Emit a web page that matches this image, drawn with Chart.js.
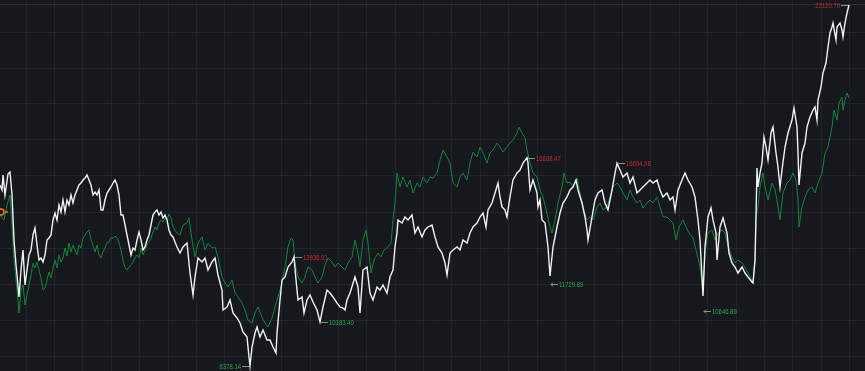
<!DOCTYPE html>
<html>
<head>
<meta charset="utf-8">
<script src="https://cdn.jsdelivr.net/npm/chart.js@4"></script>
<style>
  html, body { margin: 0; padding: 0; background: #16181d; }
  #wrap { width: 865px; height: 371px; }
</style>
</head>
<body>
<div id="wrap"><canvas id="chart"></canvas></div>
<script>
// white index (trading day, level)
const whiteDays = [0,2,3,5,8,10,12,14,16,17,19,21,23,25,27,29,31,33,35,37,39,41,43,45,47,49,51,53,55,57,59,61,63,65,67,69,71,73,75,77,79,81,83,85,87,89,91,93,95,97,99,101,103,105,107,109,111,113,115,117,119,121,123,125,127,129,131,133,135,137,139,141,143,145,147,149,151,153,155,157,159,161,163,165,167,169,171,173,177,180,183,187,188,190,193,195,198,202,205,208,212,215,218,222,223,227,230,233,237,240,243,247,249,250,252,255,257,260,263,267,270,273,276,277,280,282,285,288,292,294,296,298,302,304,307,310,313,317,320,323,327,330,333,337,340,343,345,347,350,355,358,360,363,367,370,373,377,380,383,387,390,393,395,397,398,402,405,408,412,415,418,422,425,428,432,435,438,442,445,447,450,453,457,460,463,467,470,473,477,480,483,486,488,492,495,498,500,502,505,507,510,513,517,520,523,527,528,530,533,537,538,540,542,545,548,550,553,557,560,563,567,570,573,576,578,582,585,587,588,592,595,598,602,605,608,612,615,617,620,623,627,630,633,637,640,643,647,650,653,657,660,663,667,670,673,675,678,682,685,688,692,695,698,700,703,705,708,711,713,716,717,720,723,727,729,732,735,738,742,745,748,752,753,755,756,757,758,760,762,764,766,768,771,773,776,778,780,782,785,788,792,794,797,798,799,802,805,807,810,813,815,817,818,821,823,826,828,830,832,833,836,837,840,842,843,845,847,849];
const whiteValues = [15771,15567,16180,15363,16221,16302,15363,13526,12505,12097,11199,12301,13118,11689,12301,12913,13118,13730,14016,13322,12709,12791,12628,12913,13526,13607,13730,14343,14628,14343,14955,14669,15159,14669,15159,14955,15363,15037,15363,15567,15771,15853,15976,16057,16180,15976,15771,15363,15486,15363,15567,14751,14751,15159,15445,15567,15690,15853,15976,15771,15363,14547,14547,14138,13730,13322,12913,13199,13118,13526,13852,13526,13118,13240,13526,13730,14138,14547,14669,14751,14547,14669,14424,14547,14343,13934,13730,13648,13240,12995,13240,13403,12995,12178,11280,12015,12791,12628,12791,12301,12628,12791,12097,11484,10668,10790,11076,10545,10341,10137,9769,9565,8749,8378,9157,9728,9974,9565,9851,9443,9443,9157,8912,9728,11076,11893,12015,12423,12628,12837,11893,11076,11199,10545,11076,11280,10994,10668,10183,10790,11484,11362,11199,10953,10790,10749,10668,11076,11362,12015,11607,10545,12301,12423,11362,11076,11607,11484,11689,11362,12015,12301,13240,13812,14343,14220,14465,14343,14547,13812,14057,13648,13934,14057,14138,13648,13240,12995,12587,12097,12995,13118,13240,13118,13526,13403,13812,14057,14220,14465,14628,14057,14751,15037,15445,15853,15282,14873,14751,14465,15282,15976,16261,16384,16670,16888,16670,15567,15976,15445,14873,15159,14343,14220,13240,12056,13240,14057,14628,15037,15282,15567,15690,15976,15567,15037,14465,13934,13526,14465,15159,15445,15567,15037,14751,15567,16261,16655,16384,16098,16261,15853,16098,15445,15567,15690,15853,15976,15853,15976,15567,15282,15445,15159,15282,14751,15567,15976,16261,15976,15690,15282,14343,13526,11240,13240,14465,14832,14343,13812,12709,14057,14424,13812,12995,12587,12423,12178,12423,12178,12015,11811,11770,12709,14465,16466,15690,16261,16670,17731,17323,16792,17895,18140,17078,16506,15690,16384,17323,17895,18425,18915,18140,17078,15771,17078,17486,18140,18548,18834,18956,18425,19242,19773,20344,20753,21406,21978,22223,22386,21692,22223,22386,22100,21814,22386,22794,23121];

// green index (trading day, level)
const greenDays = [0,4,7,10,12,14,16,18,19,21,23,25,27,29,31,33,35,37,39,41,43,45,47,49,51,53,55,57,59,61,63,65,67,69,71,73,75,77,79,81,83,85,87,89,91,93,95,97,99,101,103,105,107,109,111,113,115,117,119,121,123,125,127,129,131,133,135,137,139,141,143,145,147,149,151,153,155,157,159,161,163,165,167,169,171,173,177,180,183,187,189,192,195,198,202,205,208,212,215,218,222,225,228,232,235,238,242,245,248,252,255,258,262,265,268,272,275,278,282,285,288,291,293,295,298,302,305,308,312,315,318,322,325,328,332,335,338,342,345,348,352,355,358,360,363,366,368,371,374,378,381,384,388,391,393,395,397,400,403,407,410,413,417,420,423,427,430,433,437,440,443,447,450,453,457,460,463,467,470,473,477,480,483,487,490,493,497,500,503,507,510,513,517,519,522,525,527,530,533,537,540,543,547,550,552,555,558,562,564,567,570,573,577,580,583,587,590,593,597,600,603,607,610,613,617,620,623,627,630,633,637,640,643,647,650,653,657,660,663,667,670,673,676,679,683,686,689,693,696,699,700,703,705,708,712,715,718,722,725,728,732,735,738,742,745,748,752,753,755,756,758,760,763,765,768,772,775,777,780,783,787,790,793,796,798,799,802,805,808,812,815,818,822,825,828,832,834,837,839,842,843,845,847,849];
const greenValues = [14547,14343,14955,15363,14138,12709,11893,11076,10545,11484,11689,10872,11280,11689,12097,12587,12383,12628,12301,11974,11484,11566,11893,12219,11974,12383,12709,12383,12913,12628,12791,13199,12873,13403,13036,13322,13118,12913,13322,13199,13607,13730,13852,13934,13526,13322,13036,13322,12913,12791,13036,13199,13403,13444,13607,13607,13689,13607,13403,13118,12709,12383,12301,12423,12505,12628,12791,12913,12791,13199,12913,13118,13322,13444,13607,13852,14057,13934,14220,14343,14261,14424,14343,14587,14424,14057,13812,13730,14138,14220,14424,13526,12832,13403,13648,13118,13403,13199,13240,12832,12015,11770,11607,11893,11362,11199,10953,10668,10259,10137,10545,10790,10382,10137,9974,10341,10790,11199,11770,12423,13240,13607,13526,12587,12015,11770,12015,12423,12301,12015,11770,12015,12505,12791,12628,12423,12587,12423,12301,12587,12832,13526,12995,12423,13526,13934,13403,12178,12709,12995,12832,13118,13240,13403,14343,15037,16261,15690,16098,15690,15976,15445,15853,15690,16098,15853,16098,16057,16261,16792,17201,16915,16670,15853,15690,16098,16261,15976,16670,17119,16915,17323,17078,16670,17078,17201,17486,17323,17119,17323,17486,17609,17895,18140,17895,17690,17201,16670,16261,16098,15567,15282,14628,14057,13812,14343,15037,15690,16261,15853,15894,15690,16057,15445,14873,14343,14465,14343,14873,15037,14751,14873,15282,15690,15853,15690,15445,15159,15567,15282,15037,15159,14832,15037,15159,15037,15282,14873,14465,14465,14343,14220,13526,14057,14343,14057,13812,13607,13118,12628,12423,11484,12995,13812,13934,13526,13812,13934,13812,13240,12832,12587,12709,12587,12423,12178,11893,11770,12709,14465,14873,15690,16261,15690,15159,15853,15567,15159,14343,15445,15853,15976,16261,15976,15159,14057,14873,15282,15567,15690,15445,15853,16261,17078,17323,18140,18834,18425,19120,19365,18834,19242,19528,19324];

// marked extremes
const highDays = [294, 527, 617, 849];
const highValues = [12836.91, 16888.47, 16654.98, 23120.70];
const highSides = ['right', 'right', 'right', 'left'];
const lowDays = [250, 320, 550, 703];
const lowValues = [8378.14, 10183.40, 11729.89, 10646.89];
const lowSides = ['left', 'right', 'right', 'right'];
const lowArrows = [false, false, true, true];

// start marker
const startDays = [1];
const startValues = [14669];

// axis range and grid levels
const dayMin = 0, dayMax = 865;
const levelMin = 8177, levelMax = 23325;
const levelGrid = [23121, 22018, 20548, 19079, 17609, 16139, 14669, 13199, 11729, 10259, 8789];
const dayGrid = [26, 54.4, 82.8, 111.2, 139.6, 168, 196.4, 224.8, 253.2, 281.6, 310, 338.4, 366.8, 395.2, 423.6, 452, 480.4, 508.8, 537.2, 565.6, 594, 622.4, 650.8, 679.2, 707.6, 736, 764.4, 792.8, 821.2, 849.6];

const toPoints = (xs, ys) => xs.map((x, i) => ({ x: x, y: ys[i] }));

const extremesPlugin = {
  id: 'extremes',
  afterDatasetsDraw(chart) {
    const ctx = chart.ctx;
    const xs = chart.scales.x, ys = chart.scales.y;
    const drawMark = (day, value, side, color, arrow) => {
      const px = xs.getPixelForValue(day);
      const py = Math.round(ys.getPixelForValue(value)) + 0.5;
      const dir = side === 'right' ? 1 : -1;
      ctx.save();
      ctx.strokeStyle = '#8b8e94';
      ctx.lineWidth = 1;
      ctx.beginPath();
      ctx.moveTo(px + dir * 1, py);
      ctx.lineTo(px + dir * 8, py);
      ctx.stroke();
      if (arrow) {
        ctx.beginPath();
        ctx.moveTo(px + dir * 3, py - 2);
        ctx.lineTo(px + dir * 1, py);
        ctx.lineTo(px + dir * 3, py + 2);
        ctx.stroke();
      }
      ctx.fillStyle = color;
      ctx.font = '8px "Liberation Sans", Arial, sans-serif';
      ctx.textBaseline = 'middle';
      ctx.textAlign = side === 'right' ? 'left' : 'right';
      ctx.translate(px + dir * 9, py);
      ctx.scale(0.74, 1);
      ctx.fillText(value.toFixed(2), 0, 0);
      ctx.restore();
    };
    highDays.forEach((d, i) => drawMark(d, highValues[i], highSides[i], '#c42a34', false));
    lowDays.forEach((d, i) => drawMark(d, lowValues[i], lowSides[i], '#2aa858', lowArrows[i]));

    // small tick beside the start marker
    const sx = xs.getPixelForValue(startDays[0]);
    const sy = ys.getPixelForValue(startValues[0]);
    ctx.save();
    ctx.strokeStyle = '#f07a1a';
    ctx.lineWidth = 1.5;
    ctx.beginPath();
    ctx.moveTo(sx + 4, sy);
    ctx.lineTo(sx + 7, sy);
    ctx.stroke();
    ctx.restore();
  }
};

const bgPlugin = {
  id: 'bg',
  beforeDraw(chart) {
    const ctx = chart.ctx;
    ctx.save();
    ctx.fillStyle = '#16181d';
    ctx.fillRect(0, 0, chart.width, chart.height);
    ctx.restore();
  }
};

new Chart(document.getElementById('chart'), {
  type: 'line',
  data: {
    datasets: [
      {
        label: 'start',
        data: toPoints(startDays, startValues),
        showLine: false,
        pointRadius: 3,
        pointBorderWidth: 1.5,
        pointBorderColor: '#f07a1a',
        pointBackgroundColor: 'rgba(0,0,0,0)',
        clip: false,
        order: 0
      },
      {
        label: 'white',
        data: toPoints(whiteDays, whiteValues),
        borderColor: '#f2f2f2',
        borderWidth: 1.4,
        pointRadius: 0,
        tension: 0,
        order: 1
      },
      {
        label: 'green',
        data: toPoints(greenDays, greenValues),
        borderColor: '#13833d',
        borderWidth: 1,
        pointRadius: 0,
        tension: 0,
        order: 2
      }
    ]
  },
  options: {
    animation: false,
    responsive: true,
    maintainAspectRatio: false,
    devicePixelRatio: 1,
    layout: { padding: 0, autoPadding: false },
    plugins: {
      legend: { display: false },
      tooltip: { enabled: false }
    },
    scales: {
      x: {
        type: 'linear',
        min: dayMin,
        max: dayMax,
        ticks: { display: false },
        grid: { color: '#202329', drawTicks: false, lineWidth: 1 },
        border: { display: false },
        afterBuildTicks: (axis) => { axis.ticks = dayGrid.map(v => ({ value: v })); }
      },
      y: {
        type: 'linear',
        min: levelMin,
        max: levelMax,
        ticks: { display: false },
        grid: {
          color: (c) => (c.tick && c.tick.value === levelGrid[0] ? '#2c2f35' : '#202329'),
          drawTicks: false,
          lineWidth: 1
        },
        border: { display: false },
        afterBuildTicks: (axis) => { axis.ticks = levelGrid.map(v => ({ value: v })); }
      }
    }
  },
  plugins: [bgPlugin, extremesPlugin]
});
</script>
</body>
</html>
